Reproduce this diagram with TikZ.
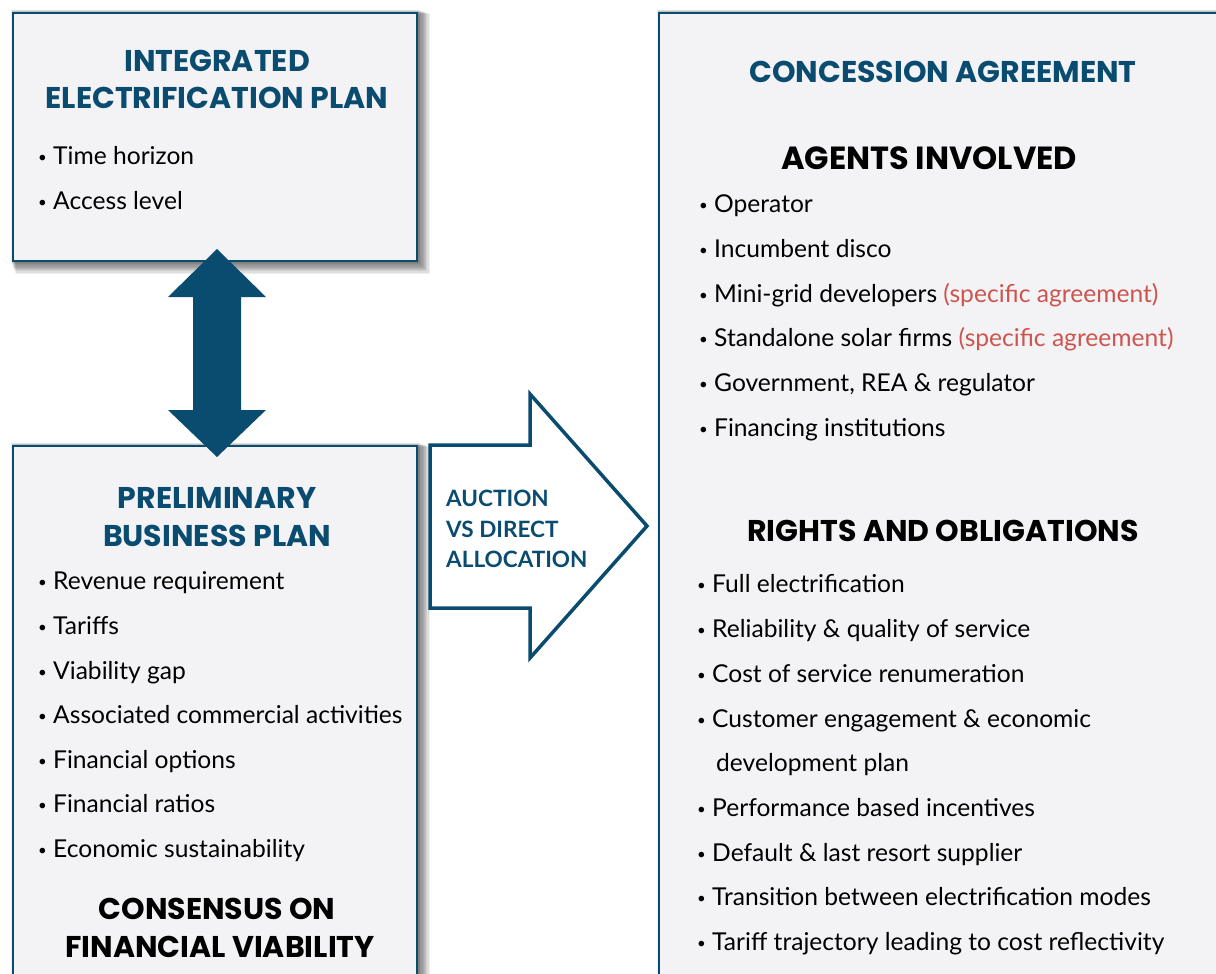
\documentclass[tikz,border=0pt]{standalone}
\usepackage{fontspec}
\setmainfont{Lato}
\newfontfamily\headfont{Poppins}
\usetikzlibrary{calc}
\definecolor{cblue}{RGB}{10,76,112}
\definecolor{cfill}{RGB}{243,243,246}
\definecolor{cred}{RGB}{206,84,78}
\pgfdeclarelayer{bg}
\pgfsetlayers{bg,main}
\newcommand{\bl}{\makebox[15pt][l]{\raisebox{1.5pt}{\fontsize{15}{15}\selectfont\textbullet}}}
\begin{document}
\begin{tikzpicture}[x=1pt,y=-1pt,
  box/.style={draw=cblue, line width=2pt, fill=cfill, inner sep=0pt, anchor=north west},
  head/.style={font=\headfont\bfseries\fontsize{30}{34}\selectfont, anchor=base, inner sep=0pt},
  bluehead/.style={head, text=cblue},
  itm/.style={font=\fontsize{24.6}{28}\selectfont, anchor=base west, inner sep=0pt},
  auct/.style={font=\bfseries\fontsize{22.5}{28}\selectfont, text=cblue, anchor=base west, inner sep=0pt}
]
\useasboundingbox (0,0) rectangle (1216,974);
\clip (0,0) rectangle (1216,974);

% boxes
\node[box, minimum width=404pt, minimum height=248pt] (iep) at (12,12) {};
\node[box, minimum width=404pt, minimum height=560pt] (pbp) at (12,445) {};
\node[box, minimum width=600pt, minimum height=1000pt] (ca) at (658,12) {};

% background and shadows
\begin{pgfonlayer}{bg}
\fill[white] (0,0) rectangle (1216,974);
\foreach \n in {iep,pbp,ca}{
  \foreach \i in {0,...,9}{
    \fill[black,opacity=0.065] ($(\n.north west)+(\i*0.5-1,\i*0.4-2)$) rectangle ($(\n.south east)+(\i*1.2+1,\i*1.2+1)$);
  }
}
\end{pgfonlayer}

% double arrow between plans
\fill[cblue] (217,249) -- (266,297) -- (241,297) -- (241,410) -- (266,410) -- (217,457)
  -- (168,410) -- (193,410) -- (193,297) -- (168,297) -- cycle;

% big arrow
\draw[cblue, line width=3.5pt, fill=white, line join=miter]
  (430,445) -- (530,445) -- (530,394) -- (647,526) -- (530,658) -- (530,608) -- (430,608) -- cycle;
\node[auct] (a1) at (446,506) {AUCTION};
\node[auct] (a2) at (446,537) {VS DIRECT};
\node[auct] (a3) at (446,567) {ALLOCATION};

% box 1 text
\node[bluehead] (t1a) at (217,72) {INTEGRATED};
\node[bluehead] (t1b) at (217,108) {ELECTRIFICATION PLAN};
\node[itm] (i1a) at (38,164) {\bl Time horizon};
\node[itm] (i1b) at (38,209) {\bl Access level};

% box 2 text
\node[bluehead] (t2a) at (217,508) {PRELIMINARY};
\node[bluehead] (t2b) at (217,546) {BUSINESS PLAN};
\node[itm] (i2a) at (38,589) {\bl Revenue requirement};
\node[itm] (i2b) at (38,634) {\bl Tariffs};
\node[itm] (i2c) at (38,679) {\bl Viability gap};
\node[itm] (i2d) at (38,723) {\bl Associated commercial activities};
\node[itm] (i2e) at (38,768) {\bl Financial options};
\node[itm] (i2f) at (38,812) {\bl Financial ratios};
\node[itm] (i2g) at (38,857) {\bl Economic sustainability};
\node[head] (t2c) at (217,919) {CONSENSUS ON};
\node[head] (t2d) at (220,957) {FINANCIAL VIABILITY};

% box 3 text
\node[bluehead] (t3a) at (943,83) {CONCESSION AGREEMENT};
\node[head, font=\headfont\bfseries\fontsize{32}{36}\selectfont] (t3b) at (929,169) {AGENTS INVOLVED};
\node[itm] (j1) at (699,212) {\bl Operator};
\node[itm] (j2) at (699,257) {\bl Incumbent disco};
\node[itm] (j3) at (699,302) {\bl Mini-grid developers \textcolor{cred}{(specific agreement)}};
\node[itm] (j4) at (699,346) {\bl Standalone solar firms \textcolor{cred}{(specific agreement)}};
\node[itm] (j5) at (699,391) {\bl Government, REA \& regulator};
\node[itm] (j6) at (699,436) {\bl Financing institutions};
\node[head] (t3c) at (943,541) {RIGHTS AND OBLIGATIONS};
\node[itm] (k1) at (697,592) {\bl Full electrification};
\node[itm] (k2) at (697,637) {\bl Reliability \& quality of service};
\node[itm] (k3) at (697,682) {\bl Cost of service renumeration};
\node[itm] (k4) at (697,727) {\bl Customer engagement \& economic};
\node[itm] (k4b) at (716,771) {development plan};
\node[itm] (k5) at (697,816) {\bl Performance based incentives};
\node[itm] (k6) at (697,861) {\bl Default \& last resort supplier};
\node[itm] (k7) at (697,905) {\bl Transition between electrification modes};
\node[itm] (k8) at (697,950) {\bl Tariff trajectory leading to cost reflectivity};
\end{tikzpicture}
\end{document}
